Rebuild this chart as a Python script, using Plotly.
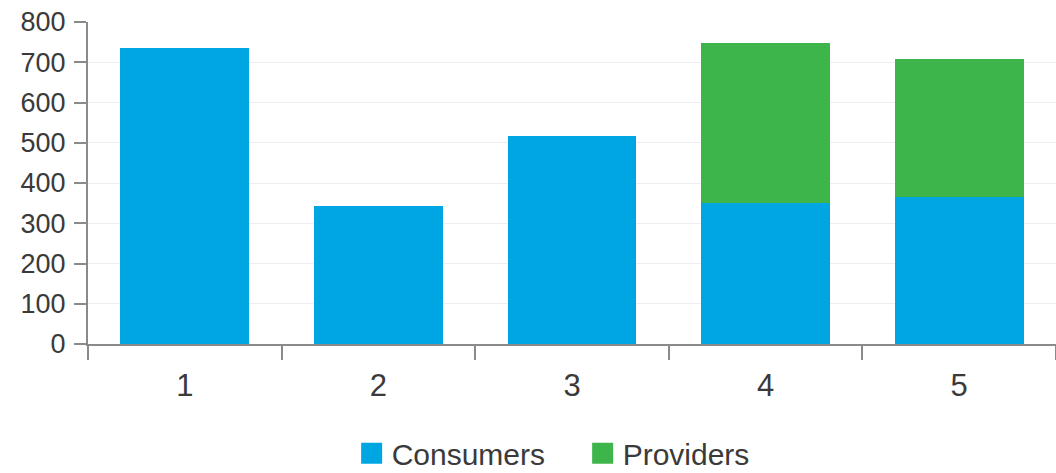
import plotly.graph_objects as go

categories = ["1", "2", "3", "4", "5"]
consumers = [735, 342, 516, 350, 365]
providers = [0, 0, 0, 397, 343]
series_names = ["Consumers", "Providers"]

BLUE = "#00A6E2"
GREEN = "#3DB54A"
AXIS = "#8A8A8A"
TEXT = "#3A3A3A"
FONT = "Liberation Sans, Arial, sans-serif"

fig = go.Figure()
for name, values, color in zip(series_names, [consumers, providers], [BLUE, GREEN]):
    fig.add_trace(go.Bar(x=categories, y=values, name=name, showlegend=False,
                         marker=dict(color=color, line=dict(width=0))))
    # legend key: a large filled square for each series
    fig.add_trace(go.Scatter(x=[None], y=[None], mode="markers", name=name,
                             marker=dict(symbol="square", size=16, color=color,
                                         line=dict(color=color, width=5))))

fig.update_layout(
    width=1056, height=473,
    margin=dict(l=88, r=0, t=22, b=129),
    barmode="stack",
    bargap=0.335,
    plot_bgcolor="white",
    paper_bgcolor="white",
    font=dict(family=FONT, size=25, color=TEXT),
    showlegend=True,
    legend=dict(orientation="h", xref="container", x=0.333, xanchor="left",
                yref="container", y=0.042, yanchor="middle",
                font=dict(size=30, color=TEXT),
                itemsizing="trace", traceorder="normal",
                itemwidth=30, entrywidth=186),
)
fig.update_xaxes(
    type="category", range=[-0.5, 4.5],
    showline=True, linecolor=AXIS, linewidth=2,
    ticks="outside", tickson="boundaries", ticklen=14, tickwidth=2,
    tickcolor=AXIS, showgrid=False,
    tickfont=dict(size=31, color=TEXT), ticklabelstandoff=13,
)
fig.update_yaxes(
    range=[0, 800], dtick=100,
    showline=True, linecolor=AXIS, linewidth=2,
    ticks="outside", ticklen=12, tickwidth=2, tickcolor=AXIS,
    showgrid=True, gridcolor="#EBEEF2", gridwidth=1,
    zeroline=False,
    tickfont=dict(size=27, color=TEXT), ticklabelstandoff=3,
)

fig.write_html("out.html")
